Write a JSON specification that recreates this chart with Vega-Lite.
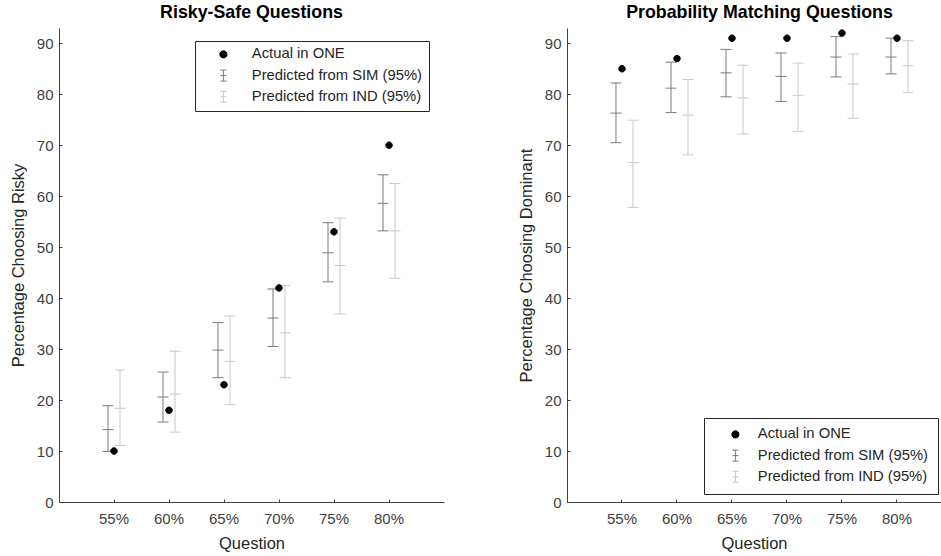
{
  "$schema": "https://vega.github.io/schema/vega-lite/v6.json",
  "autosize": {"type": "pad"},
  "padding": {"left": 10, "top": 4, "right": 0, "bottom": 0},
  "bounds": "flush",
  "spacing": 123,
  "background": "white",
  "config": {
    "view": {"stroke": null},
    "font": "Liberation Sans",
    "axis": {
      "grid": false,
      "domainColor": "#404040",
      "domainWidth": 1,
      "tickColor": "#404040",
      "tickSize": -3,
      "labelFont": "Liberation Sans",
      "labelFontSize": 15,
      "labelColor": "#404040",
      "titleFont": "Liberation Sans",
      "titleFontSize": 16.5,
      "titleFontWeight": "normal",
      "titleColor": "#262626"
    },
    "axisX": {"labelPadding": 12, "titlePadding": 9, "labelAngle": 0},
    "axisY": {"labelPadding": 9, "titlePadding": 10},
    "title": {"font": "Liberation Sans", "fontSize": 17.8, "fontWeight": "bold", "color": "#000000", "anchor": "middle", "baseline": "alphabetic", "offset": 6},
    "legend": {
      "orient": "none",
      "title": null,
      "labelFont": "Liberation Sans",
      "labelFontSize": 14.8,
      "labelColor": "#262626",
      "labelLimit": 0,
      "rowPadding": 5.2,
      "symbolSize": 121,
      "symbolStrokeWidth": 1,
      "strokeColor": "#262626",
      "fillColor": "white",
      "cornerRadius": 0
    }
  },
  "datasets": {
    "d": [
      {"panel": "rs", "q": "55%", "series": "Actual in ONE", "value": 10},
      {"panel": "rs", "q": "60%", "series": "Actual in ONE", "value": 18},
      {"panel": "rs", "q": "65%", "series": "Actual in ONE", "value": 23},
      {"panel": "rs", "q": "70%", "series": "Actual in ONE", "value": 42},
      {"panel": "rs", "q": "75%", "series": "Actual in ONE", "value": 53},
      {"panel": "rs", "q": "80%", "series": "Actual in ONE", "value": 70},
      {"panel": "rs", "q": "55%", "series": "Predicted from SIM (95%)", "lo": 9.9, "mid": 14.2, "hi": 18.9},
      {"panel": "rs", "q": "60%", "series": "Predicted from SIM (95%)", "lo": 15.7, "mid": 20.6, "hi": 25.5},
      {"panel": "rs", "q": "65%", "series": "Predicted from SIM (95%)", "lo": 24.4, "mid": 29.8, "hi": 35.2},
      {"panel": "rs", "q": "70%", "series": "Predicted from SIM (95%)", "lo": 30.5, "mid": 36.1, "hi": 41.8},
      {"panel": "rs", "q": "75%", "series": "Predicted from SIM (95%)", "lo": 43.2, "mid": 48.9, "hi": 54.8},
      {"panel": "rs", "q": "80%", "series": "Predicted from SIM (95%)", "lo": 53.2, "mid": 58.6, "hi": 64.2},
      {"panel": "rs", "q": "55%", "series": "Predicted from IND (95%)", "lo": 11.1, "mid": 18.4, "hi": 25.9},
      {"panel": "rs", "q": "60%", "series": "Predicted from IND (95%)", "lo": 13.7, "mid": 21.2, "hi": 29.6},
      {"panel": "rs", "q": "65%", "series": "Predicted from IND (95%)", "lo": 19.1, "mid": 27.6, "hi": 36.5},
      {"panel": "rs", "q": "70%", "series": "Predicted from IND (95%)", "lo": 24.4, "mid": 33.2, "hi": 42.5},
      {"panel": "rs", "q": "75%", "series": "Predicted from IND (95%)", "lo": 36.9, "mid": 46.4, "hi": 55.7},
      {"panel": "rs", "q": "80%", "series": "Predicted from IND (95%)", "lo": 43.9, "mid": 53.2, "hi": 62.5},
      {"panel": "pm", "q": "55%", "series": "Actual in ONE", "value": 85},
      {"panel": "pm", "q": "60%", "series": "Actual in ONE", "value": 87},
      {"panel": "pm", "q": "65%", "series": "Actual in ONE", "value": 91},
      {"panel": "pm", "q": "70%", "series": "Actual in ONE", "value": 91},
      {"panel": "pm", "q": "75%", "series": "Actual in ONE", "value": 92},
      {"panel": "pm", "q": "80%", "series": "Actual in ONE", "value": 91},
      {"panel": "pm", "q": "55%", "series": "Predicted from SIM (95%)", "lo": 70.5, "mid": 76.3, "hi": 82.2},
      {"panel": "pm", "q": "60%", "series": "Predicted from SIM (95%)", "lo": 76.4, "mid": 81.2, "hi": 86.3},
      {"panel": "pm", "q": "65%", "series": "Predicted from SIM (95%)", "lo": 79.5, "mid": 84.2, "hi": 88.8},
      {"panel": "pm", "q": "70%", "series": "Predicted from SIM (95%)", "lo": 78.6, "mid": 83.5, "hi": 88.1},
      {"panel": "pm", "q": "75%", "series": "Predicted from SIM (95%)", "lo": 83.4, "mid": 87.3, "hi": 91.3},
      {"panel": "pm", "q": "80%", "series": "Predicted from SIM (95%)", "lo": 84.0, "mid": 87.3, "hi": 91.0},
      {"panel": "pm", "q": "55%", "series": "Predicted from IND (95%)", "lo": 57.8, "mid": 66.6, "hi": 74.9},
      {"panel": "pm", "q": "60%", "series": "Predicted from IND (95%)", "lo": 68.1, "mid": 75.9, "hi": 82.9},
      {"panel": "pm", "q": "65%", "series": "Predicted from IND (95%)", "lo": 72.2, "mid": 79.3, "hi": 85.7},
      {"panel": "pm", "q": "70%", "series": "Predicted from IND (95%)", "lo": 72.7, "mid": 79.8, "hi": 86.1},
      {"panel": "pm", "q": "75%", "series": "Predicted from IND (95%)", "lo": 75.3, "mid": 82.0, "hi": 87.9},
      {"panel": "pm", "q": "80%", "series": "Predicted from IND (95%)", "lo": 80.3, "mid": 85.6, "hi": 90.5}
    ]
  },
  "resolve": {"scale": {"color": "independent", "shape": "independent"}, "legend": {"color": "independent", "shape": "independent"}},
  "hconcat": [
    {
      "width": 385,
      "height": 474,
      "title": {"text": "Risky-Safe Questions"},
      "data": {"name": "d"},
      "transform": [{"filter": "datum.panel === 'rs'"}],
      "encoding": {
        "x": {"field": "q", "type": "ordinal", "title": "Question",
              "scale": {"type": "band", "paddingInner": 0.6, "paddingOuter": 0.8, "align": 0.5, "round": false}}
      },
      "layer": [
        {
          "transform": [{"filter": "datum.series === 'Predicted from SIM (95%)'"}],
          "mark": {"type": "rule", "color": "#7a7a7a", "strokeWidth": 1, "xOffset": -6},
          "encoding": {
            "y": {"field": "lo", "type": "quantitative", "title": "Percentage Choosing Risky", "scale": {"domain": [0, 93], "nice": false}, "axis": {"values": [0, 10, 20, 30, 40, 50, 60, 70, 80, 90]}},
            "y2": {"field": "hi"}
          }
        },
        {
          "transform": [{"filter": "datum.series === 'Predicted from SIM (95%)'"}, {"fold": ["lo", "mid", "hi"], "as": ["k", "v"]}],
          "mark": {"type": "tick", "color": "#7a7a7a", "orient": "horizontal", "size": 11, "thickness": 1, "opacity": 1, "xOffset": -6},
          "encoding": {"y": {"field": "v", "type": "quantitative", "title": "Percentage Choosing Risky"}}
        },
        {
          "transform": [{"filter": "datum.series === 'Predicted from IND (95%)'"}],
          "mark": {"type": "rule", "color": "#c8c8c8", "strokeWidth": 1, "xOffset": 6},
          "encoding": {
            "y": {"field": "lo", "type": "quantitative", "title": "Percentage Choosing Risky"},
            "y2": {"field": "hi"}
          }
        },
        {
          "transform": [{"filter": "datum.series === 'Predicted from IND (95%)'"}, {"fold": ["lo", "mid", "hi"], "as": ["k", "v"]}],
          "mark": {"type": "tick", "color": "#c8c8c8", "orient": "horizontal", "size": 11, "thickness": 1, "opacity": 1, "xOffset": 6},
          "encoding": {"y": {"field": "v", "type": "quantitative", "title": "Percentage Choosing Risky"}}
        },
        {
          "transform": [{"filter": "datum.series === 'Actual in ONE'"}],
          "mark": {"type": "point", "filled": false, "fill": "#000000", "strokeWidth": 1, "size": 100, "opacity": 1},
          "encoding": {
            "y": {"field": "value", "type": "quantitative", "title": "Percentage Choosing Risky"},
            "color": {
              "field": "series", "type": "nominal",
              "scale": {"domain": ["Actual in ONE", "Predicted from SIM (95%)", "Predicted from IND (95%)"], "range": ["#000000", "#7a7a7a", "#c8c8c8"]},
              "legend": {"orient": "none", "legendX": 136, "legendY": 13, "padding": 6, "symbolOffset": 15, "labelOffset": 21, "symbolSize": 121, "symbolFillColor": "#000000"}
            },
            "shape": {
              "field": "series", "type": "nominal",
              "scale": {"domain": ["Actual in ONE", "Predicted from SIM (95%)", "Predicted from IND (95%)"], "range": ["M-0.65,0A0.65,0.65 0 1 0 0.65,0A0.65,0.65 0 1 0 -0.65,0Z", "M0,-1L0,1M-0.55,-1L0.55,-1M-0.55,0L0.55,0M-0.55,1L0.55,1", "M0,-1L0,1M-0.55,-1L0.55,-1M-0.55,0L0.55,0M-0.55,1L0.55,1"]},
              "legend": {"orient": "none", "legendX": 136, "legendY": 13, "padding": 6, "symbolOffset": 15, "labelOffset": 21, "symbolSize": 121, "symbolFillColor": "#000000"}
            }
          }
        }
      ]
    },
    {
      "width": 374,
      "height": 474,
      "title": {"text": "Probability Matching Questions", "dx": 5.5},
      "data": {"name": "d"},
      "transform": [{"filter": "datum.panel === 'pm'"}],
      "encoding": {
        "x": {"field": "q", "type": "ordinal", "title": "Question",
              "scale": {"type": "band", "paddingInner": 0.6, "paddingOuter": 0.7, "align": 0.5714, "round": false}}
      },
      "layer": [
        {
          "transform": [{"filter": "datum.series === 'Predicted from SIM (95%)'"}],
          "mark": {"type": "rule", "color": "#7a7a7a", "strokeWidth": 1, "xOffset": -6},
          "encoding": {
            "y": {"field": "lo", "type": "quantitative", "title": "Percentage Choosing Dominant", "scale": {"domain": [0, 93], "nice": false}, "axis": {"values": [0, 10, 20, 30, 40, 50, 60, 70, 80, 90]}},
            "y2": {"field": "hi"}
          }
        },
        {
          "transform": [{"filter": "datum.series === 'Predicted from SIM (95%)'"}, {"fold": ["lo", "mid", "hi"], "as": ["k", "v"]}],
          "mark": {"type": "tick", "color": "#7a7a7a", "orient": "horizontal", "size": 11, "thickness": 1, "opacity": 1, "xOffset": -6},
          "encoding": {"y": {"field": "v", "type": "quantitative", "title": "Percentage Choosing Dominant"}}
        },
        {
          "transform": [{"filter": "datum.series === 'Predicted from IND (95%)'"}],
          "mark": {"type": "rule", "color": "#c8c8c8", "strokeWidth": 1, "xOffset": 11},
          "encoding": {
            "y": {"field": "lo", "type": "quantitative", "title": "Percentage Choosing Dominant"},
            "y2": {"field": "hi"}
          }
        },
        {
          "transform": [{"filter": "datum.series === 'Predicted from IND (95%)'"}, {"fold": ["lo", "mid", "hi"], "as": ["k", "v"]}],
          "mark": {"type": "tick", "color": "#c8c8c8", "orient": "horizontal", "size": 11, "thickness": 1, "opacity": 1, "xOffset": 11},
          "encoding": {"y": {"field": "v", "type": "quantitative", "title": "Percentage Choosing Dominant"}}
        },
        {
          "transform": [{"filter": "datum.series === 'Actual in ONE'"}],
          "mark": {"type": "point", "filled": false, "fill": "#000000", "strokeWidth": 1, "size": 100, "opacity": 1},
          "encoding": {
            "y": {"field": "value", "type": "quantitative", "title": "Percentage Choosing Dominant"},
            "color": {
              "field": "series", "type": "nominal",
              "scale": {"domain": ["Actual in ONE", "Predicted from SIM (95%)", "Predicted from IND (95%)"], "range": ["#000000", "#7a7a7a", "#c8c8c8"]},
              "legend": {"orient": "none", "legendX": 137, "legendY": 390, "padding": 9, "symbolOffset": 15, "labelOffset": 15, "symbolSize": 121, "symbolFillColor": "#000000"}
            },
            "shape": {
              "field": "series", "type": "nominal",
              "scale": {"domain": ["Actual in ONE", "Predicted from SIM (95%)", "Predicted from IND (95%)"], "range": ["M-0.65,0A0.65,0.65 0 1 0 0.65,0A0.65,0.65 0 1 0 -0.65,0Z", "M0,-1L0,1M-0.55,-1L0.55,-1M-0.55,0L0.55,0M-0.55,1L0.55,1", "M0,-1L0,1M-0.55,-1L0.55,-1M-0.55,0L0.55,0M-0.55,1L0.55,1"]},
              "legend": {"orient": "none", "legendX": 137, "legendY": 390, "padding": 9, "symbolOffset": 15, "labelOffset": 15, "symbolSize": 121, "symbolFillColor": "#000000"}
            }
          }
        }
      ]
    }
  ]
}
